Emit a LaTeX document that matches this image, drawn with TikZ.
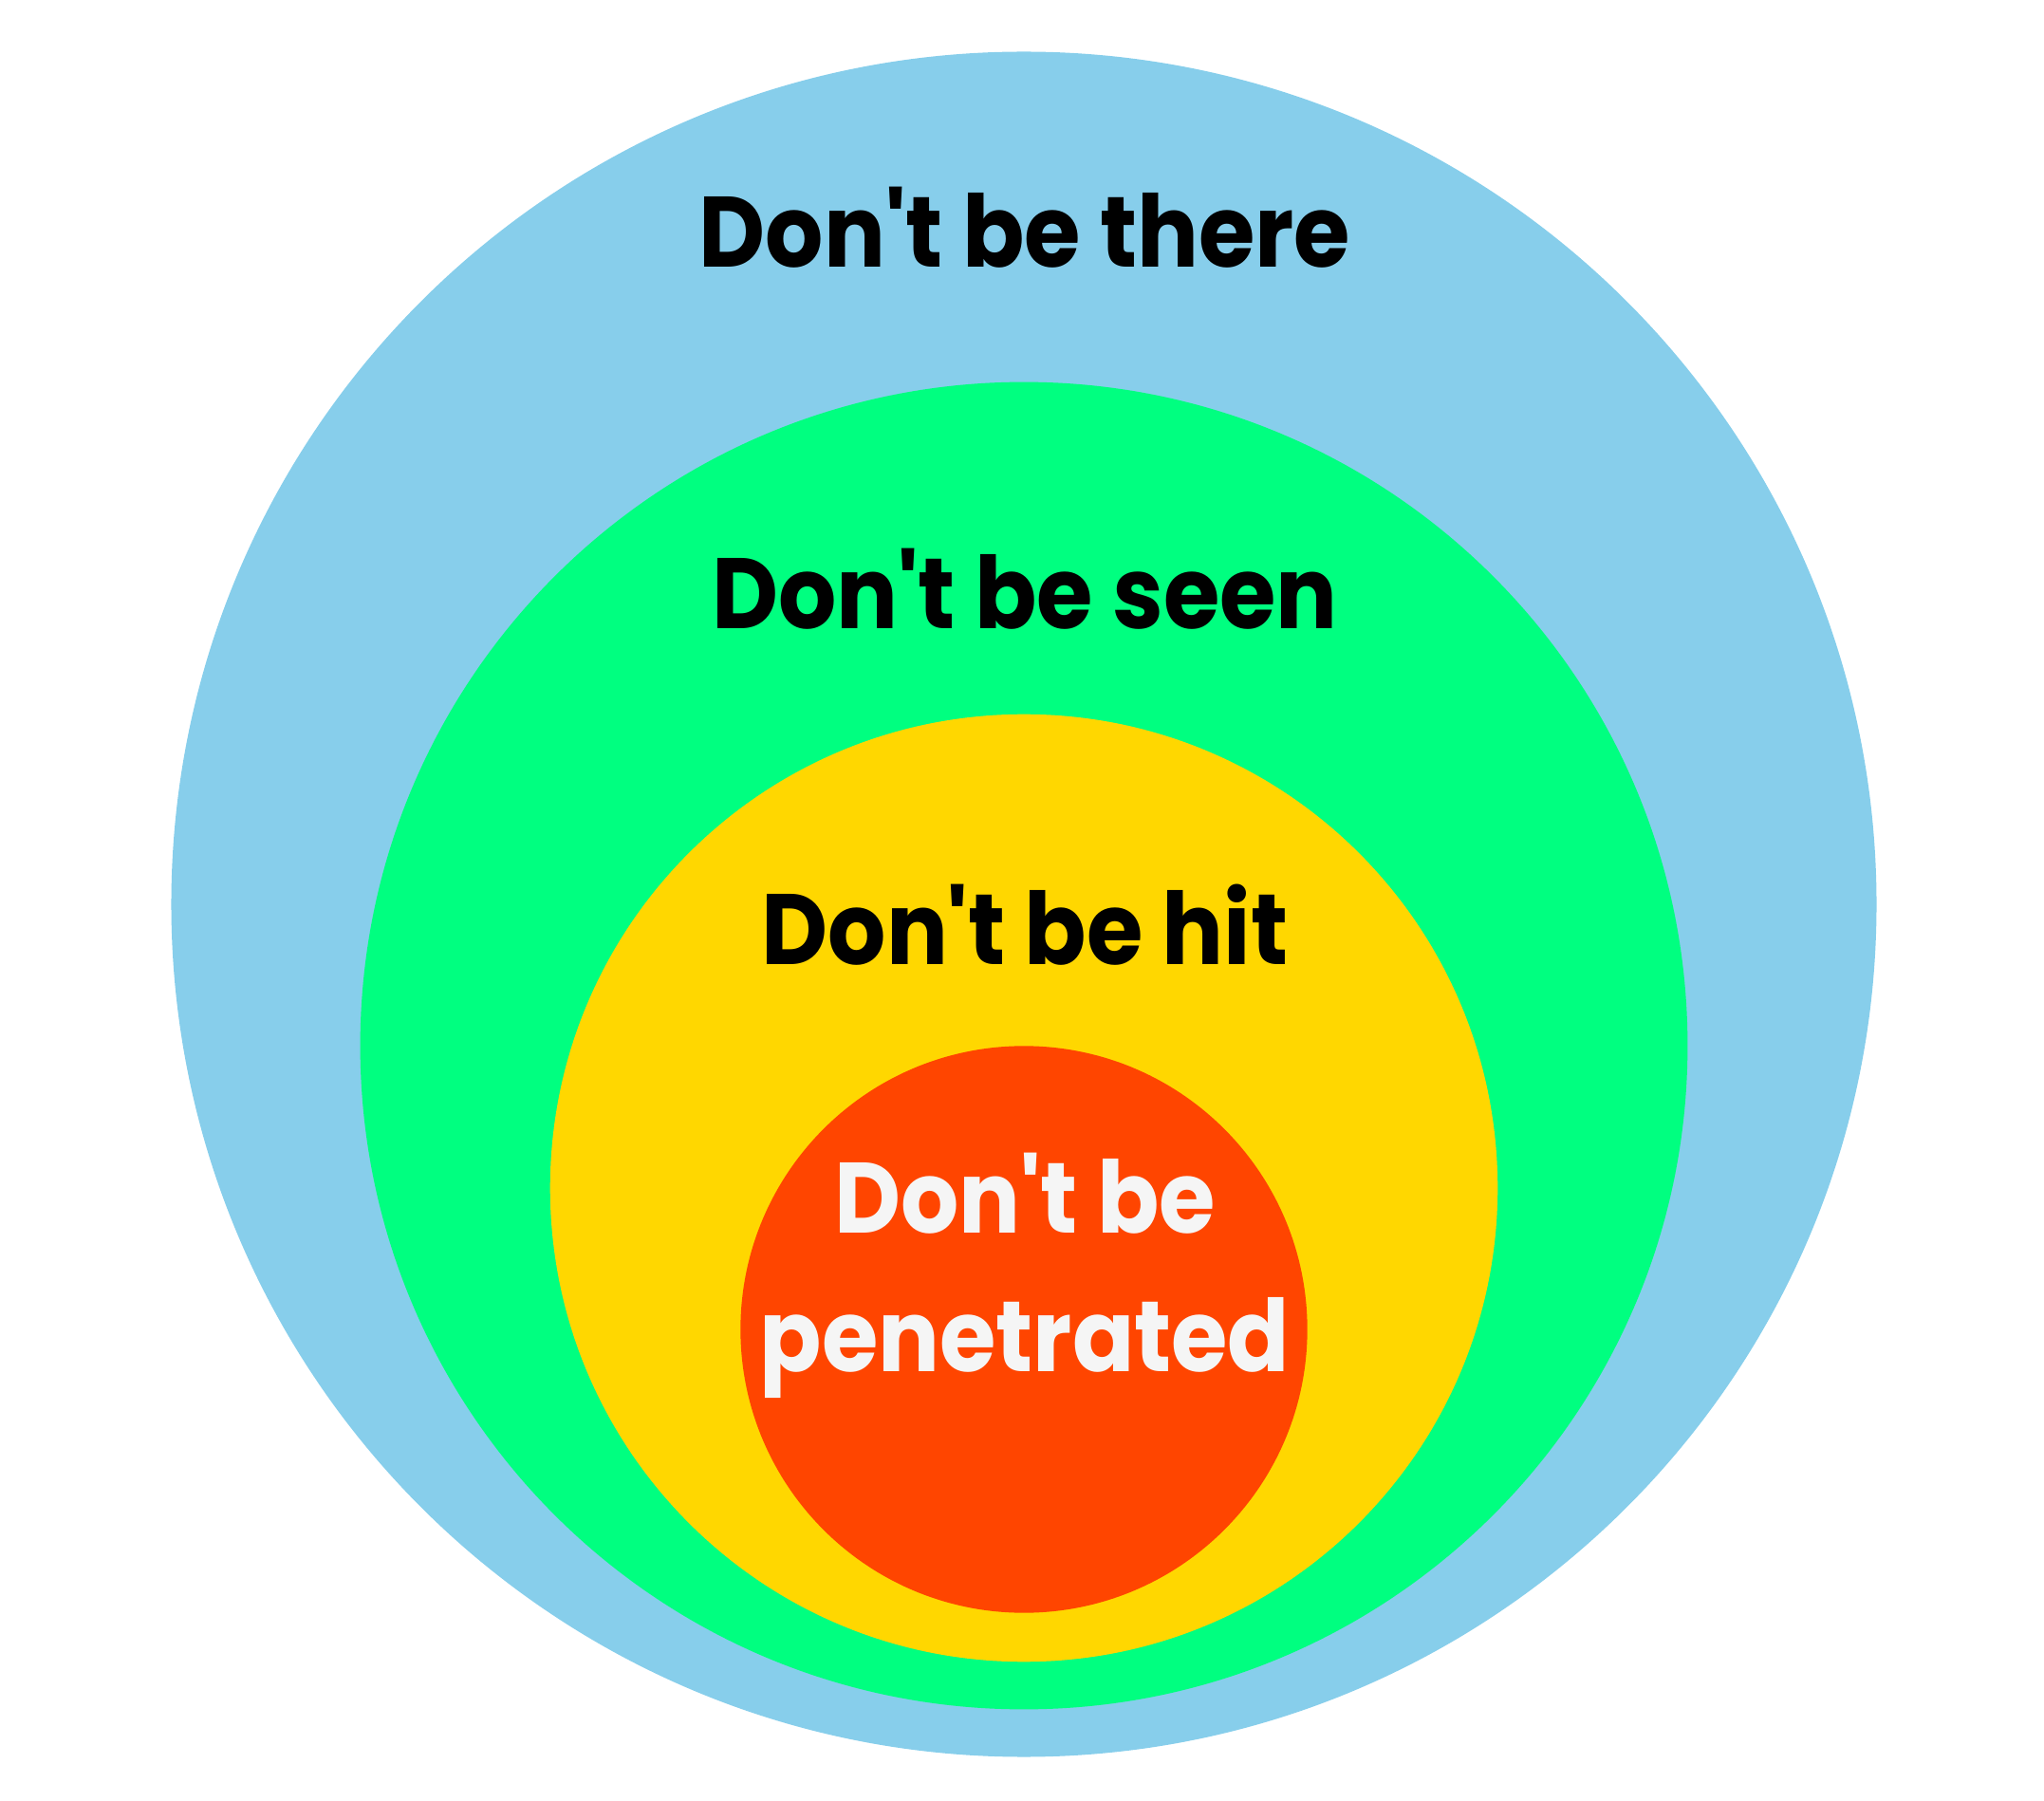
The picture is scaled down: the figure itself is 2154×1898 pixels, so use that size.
\documentclass[tikz,border=0pt]{standalone}
\usepackage{graphicx}
\usepackage{fontspec}
\setmainfont{Poppins}[Ligatures=TeXOff]
\usetikzlibrary{positioning}

\definecolor{skyzone}{HTML}{87CEEB}
\definecolor{greenzone}{HTML}{00FF80}
\definecolor{goldzone}{HTML}{FFD700}
\definecolor{redzone}{HTML}{FF4500}
\definecolor{paletext}{HTML}{F5F5F5}

% labels are set a little narrower than the font
\newcommand{\squeeze}[1]{\scalebox{0.913}[1]{#1}}

\begin{document}
\begin{tikzpicture}[
    x=0.01cm, y=-0.01cm,
    zone/.style={circle, inner sep=0pt, draw=none},
    layer/.style={anchor=base, inner sep=0pt, font=\bfseries\fontsize{30}{36}\selectfont}
]
\useasboundingbox (0,0) rectangle (2154,1898);

% nested zones, outer to inner
\node[zone, fill=skyzone, minimum size=17.96cm] (there) at (1079,953) {};
\node[zone, fill=greenzone, minimum size=13.98cm] (seen) at (1079,1102) {};
\node[zone, fill=goldzone, minimum size=9.98cm] (hit) at (1079,1252) {};
\node[zone, fill=redzone, minimum size=5.97cm] (pen) at (1079,1401) {};

% labels
\node[layer] (lthere) at (1080,282) {\squeeze{Don't be there}};
\node[layer] (lseen) at (1080,663) {\squeeze{Don't be seen}};
\node[layer] (lhit) at (1080,1017) {\squeeze{Don't be hit}};
\node[layer, text=paletext] (lpen) at (1080,1300) {\squeeze{Don't be}};
\node[layer, text=paletext, below=1.45cm of lpen.base, anchor=base] (lpen2) {\squeeze{penetrated}};

\end{tikzpicture}
\end{document}
